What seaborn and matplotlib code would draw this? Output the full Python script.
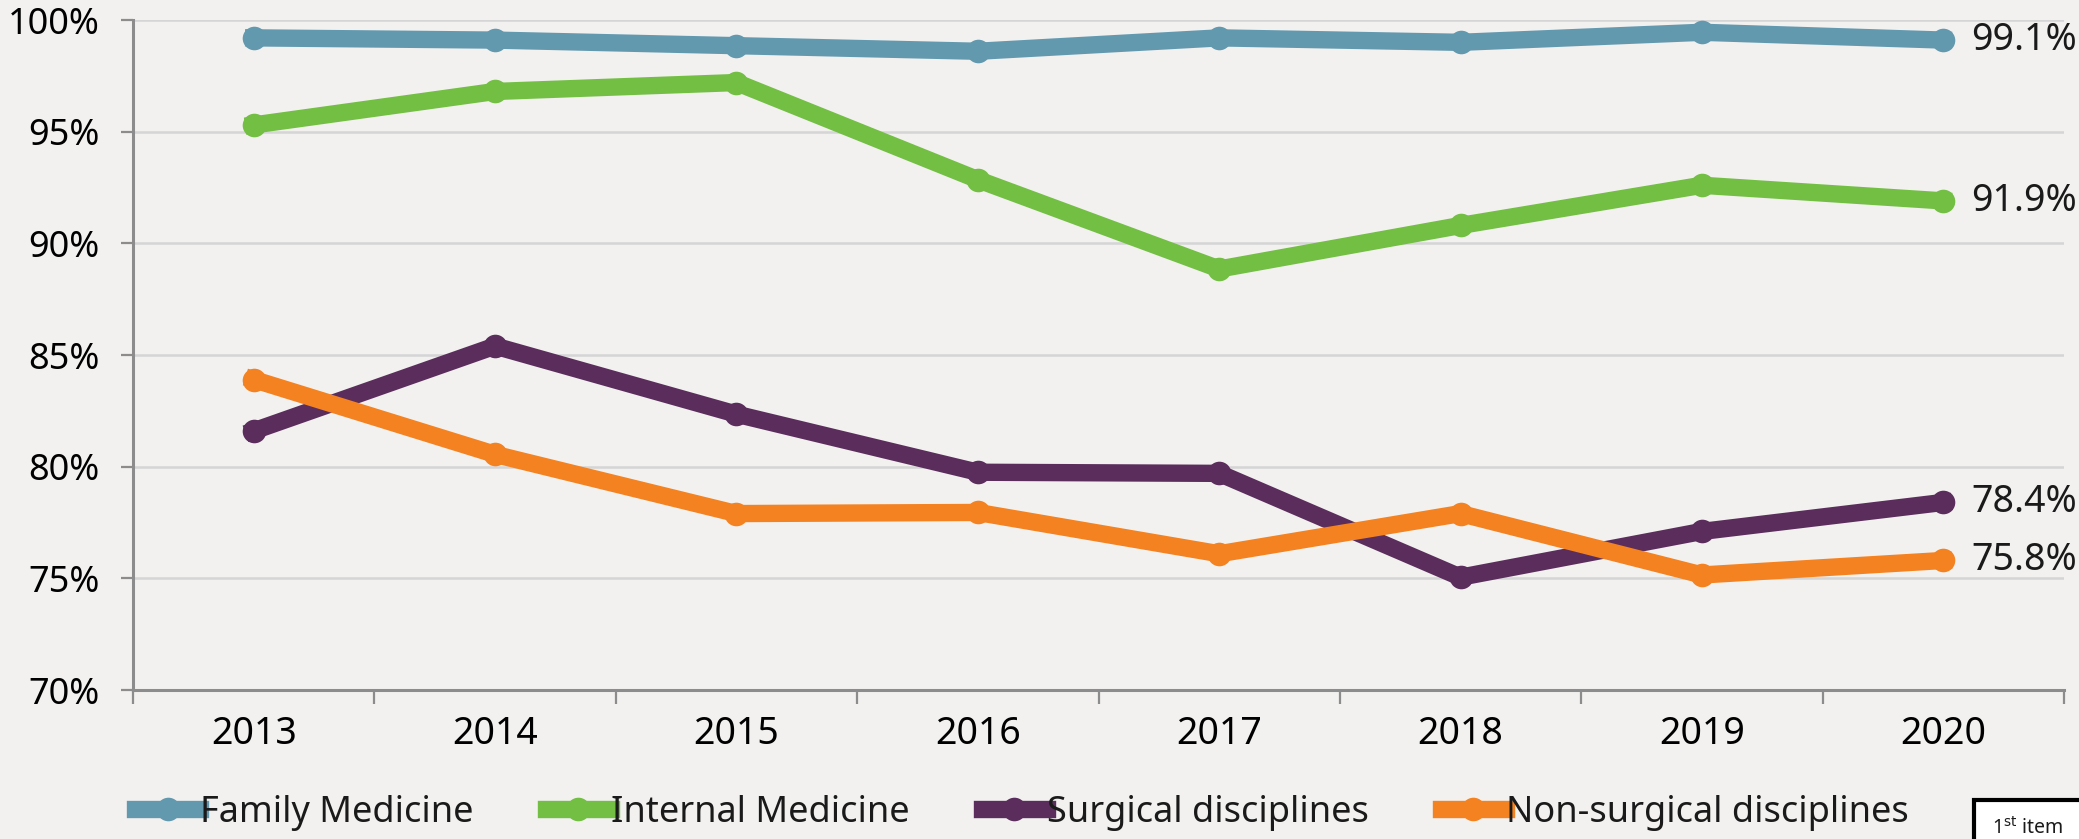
import pandas as pd
import matplotlib.pyplot as plt
import seaborn as sns
from matplotlib.lines import Line2D
from matplotlib.patches import Rectangle
from matplotlib.ticker import FixedLocator, FuncFormatter

# data
years = ["2013", "2014", "2015", "2016", "2017", "2018", "2019", "2020"]
family_medicine = [99.2, 99.1, 98.85, 98.6, 99.2, 99.0, 99.45, 99.1]
internal_medicine = [95.3, 96.8, 97.2, 92.85, 88.85, 90.8, 92.6, 91.9]
surgical = [81.6, 85.4, 82.35, 79.75, 79.7, 75.05, 77.1, 78.4]
non_surgical = [83.9, 80.55, 77.9, 77.95, 76.1, 77.9, 75.15, 75.8]

series = ["Family Medicine", "Internal Medicine", "Surgical disciplines", "Non-surgical disciplines"]
colors = ["#6299AF", "#72BF44", "#5B2D5C", "#F58220"]

df = pd.DataFrame({
    "Year": years * 4,
    "Value": family_medicine + internal_medicine + surgical + non_surgical,
    "Series": [s for s in series for _ in years],
})

bg = "#F2F1EF"
LW, MS = 12.5, 17
plt.rcParams["font.family"] = ["Noto Sans", "DejaVu Sans"]
plt.rcParams["text.color"] = "#1A1A1A"

fig = plt.figure(figsize=(20.79, 8.39), dpi=100, facecolor=bg)
ax = fig.add_axes([133 / 2079, 1 - 690 / 839, (2064 - 133) / 2079, (690 - 20) / 839])
ax.set_facecolor(bg)

sns.lineplot(data=df, x="Year", y="Value", hue="Series", hue_order=series,
             palette=colors, marker="o", sort=False, legend=False, ax=ax)
for ln in ax.lines:
    ln.set_linewidth(LW)
    ln.set_markersize(MS)
    ln.set_markeredgewidth(0)
    ln.set_zorder(3)

ax.set_xlim(-0.5, len(years) - 0.5)
ax.set_ylim(70, 100)
ax.yaxis.set_major_locator(FixedLocator(range(70, 101, 5)))
ax.yaxis.set_major_formatter(FuncFormatter(lambda v, p: f"{v:.0f}%"))
ax.grid(axis="y", color="#D5D5D5", linewidth=1.8, zorder=0)
ax.grid(axis="x", visible=False)
ax.set_xlabel("")
ax.set_ylabel("")

for side in ["top", "right"]:
    ax.spines[side].set_visible(False)
for side in ["left", "bottom"]:
    ax.spines[side].set_color("#8C8C8C")
    ax.spines[side].set_linewidth(2.2)

ax.tick_params(axis="y", length=9, width=1.6, color="#8C8C8C", pad=15, labelsize=26)
ax.tick_params(axis="x", which="major", length=0, pad=18, labelsize=27)
ax.xaxis.set_minor_locator(FixedLocator([i + 0.5 for i in range(-1, len(years))]))
ax.tick_params(axis="x", which="minor", length=10, width=1.6, color="#8C8C8C")

# end-of-line value labels
for name, vals in zip(series, [family_medicine, internal_medicine, surgical, non_surgical]):
    ax.annotate(f"{vals[-1]:.1f}%", (len(years) - 1, vals[-1]), xytext=(20, 0),
                textcoords="offset points", va="center", ha="left", fontsize=27)

handles = [Line2D([], [], color=c, lw=LW, marker="o", markersize=MS, markeredgewidth=0)
           for c in colors]
fig.legend(handles, series, loc="center left", bbox_to_anchor=(135 / 2079, 1 - 813 / 839),
           ncol=4, frameon=False, fontsize=26, handlelength=1.8, handletextpad=0,
           columnspacing=2.0, borderpad=0, borderaxespad=0)

# partially visible note box at the bottom right
fig.patches.append(Rectangle((1974 / 2079, -0.05), 0.2, (839 - 800) / 839 + 0.05,
                             transform=fig.transFigure, facecolor="white",
                             edgecolor="black", linewidth=3))
fig.text(1992 / 2079, 1 - 828 / 839, r"1$^{\mathrm{st}}$ item", fontsize=14,
         va="center", ha="left")

fig.savefig("out.png", dpi=100, facecolor=bg)
